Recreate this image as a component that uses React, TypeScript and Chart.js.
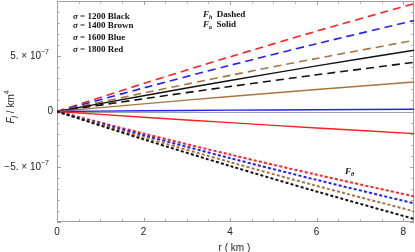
import React, { useEffect, useRef } from 'react';
import { Chart, registerables } from 'chart.js';
Chart.register(...registerables);

// radial coordinate (km)
const rValues = [0, 2, 4, 6, 8.25];
// values in units of 1e-7
const FhBlack = [0, 1.15, 2.26, 3.32, 4.45];
const FhBrown = [0, 1.67, 3.27, 4.8, 6.44];
const FhBlue = [0, 2.13, 4.18, 6.13, 8.23];
const FhRed = [0, 2.53, 4.95, 7.27, 9.76];
const FaBlack = [0, 1.43, 2.81, 4.13, 5.54];
const FaBrown = [0, 0.69, 1.36, 1.99, 2.67];
const FaBlue = [0, 0.07, 0.12, 0.16, 0.2];
const FaRed = [0, -0.52, -1.01, -1.49, -2.0];
const FtBlack = [0, -2.52, -4.93, -7.24, -9.72];
const FtBrown = [0, -2.34, -4.58, -6.73, -9.03];
const FtBlue = [0, -2.15, -4.22, -6.19, -8.31];
const FtRed = [0, -1.99, -3.9, -5.72, -7.68];

const sigmaValues = ['1200', '1400', '1600', '1800'];
const colorNames = ['Black', 'Brown', 'Blue', 'Red'];
const xTickValues = [0, 2, 4, 6, 8];
const yTickMantissa = [5, 0, -5];

const COLORS: Record<string, string> = {
  Black: '#111111',
  Brown: '#a8743f',
  Blue: '#1f1fff',
  Red: '#ff1f1f',
};

type Part = { t: string; f: string; dy?: number };

function drawParts(ctx: CanvasRenderingContext2D, x: number, y: number, parts: Part[], align: 'left' | 'right' | 'center' = 'left') {
  let total = 0;
  for (const p of parts) {
    ctx.font = p.f;
    total += ctx.measureText(p.t).width;
  }
  let cx = align === 'left' ? x : align === 'right' ? x - total : x - total / 2;
  ctx.textAlign = 'left';
  ctx.textBaseline = 'middle';
  for (const p of parts) {
    ctx.font = p.f;
    ctx.fillText(p.t, cx, y + (p.dy || 0));
    cx += ctx.measureText(p.t).width;
  }
}

const framePlugin = {
  id: 'framePlugin',
  beforeDatasetsDraw(chart: any) {
    const ctx: CanvasRenderingContext2D = chart.ctx;
    const { left, right, top, bottom } = chart.chartArea;
    const xs = chart.scales.x;
    const ys = chart.scales.y;
    ctx.save();
    ctx.strokeStyle = '#a0a0a0';
    ctx.lineWidth = 1;
    ctx.strokeRect(left + 0.5, top + 0.5, right - left - 1, bottom - top - 1);
    // zero line
    const y0 = Math.round(ys.getPixelForValue(0)) + 0.5;
    ctx.beginPath();
    ctx.moveTo(left, y0);
    ctx.lineTo(right, y0);
    ctx.stroke();
    // ticks
    ctx.beginPath();
    for (let i = 0; i <= 16; i++) {
      const v = i * 0.5;
      const px = Math.round(xs.getPixelForValue(v)) + 0.5;
      const len = i % 4 === 0 ? 4 : 2.5;
      ctx.moveTo(px, bottom);
      ctx.lineTo(px, bottom - len);
      ctx.moveTo(px, top);
      ctx.lineTo(px, top + len);
    }
    for (let i = -10; i <= 10; i++) {
      const v = i * 1e-7;
      const py = Math.round(ys.getPixelForValue(v)) + 0.5;
      const len = i % 5 === 0 ? 4 : 2.5;
      ctx.moveTo(left, py);
      ctx.lineTo(left + len, py);
      ctx.moveTo(right, py);
      ctx.lineTo(right - len, py);
    }
    ctx.stroke();
    ctx.restore();
  },
  afterDraw(chart: any) {
    const ctx: CanvasRenderingContext2D = chart.ctx;
    const { left, bottom } = chart.chartArea;
    const xs = chart.scales.x;
    const ys = chart.scales.y;
    ctx.save();
    ctx.fillStyle = '#222';
    const tickFont = '10px "Liberation Sans", Arial, sans-serif';
    const supFont = '7px "Liberation Sans", Arial, sans-serif';
    for (const v of xTickValues) {
      drawParts(ctx, xs.getPixelForValue(v), bottom + 10, [{ t: String(v), f: tickFont }], 'center');
    }
    for (const m of yTickMantissa) {
      const py = ys.getPixelForValue(m * 1e-7);
      if (m === 0) {
        drawParts(ctx, left - 4, py, [{ t: '0', f: tickFont }], 'right');
      } else {
        const sign = m < 0 ? '\u2212' : '';
        drawParts(ctx, left - 8, py, [
          { t: sign + Math.abs(m) + '. \u00d7 10', f: tickFont },
          { t: '\u22127', f: supFont, dy: -4 },
        ], 'right');
      }
    }
    // axis titles
    drawParts(ctx, xs.getPixelForValue(4.1), 248, [{ t: 'r ( km )', f: '10px "Liberation Sans", Arial, sans-serif' }], 'center');
    ctx.save();
    ctx.translate(11, 107);
    ctx.rotate(-Math.PI / 2);
    drawParts(ctx, 0, 0, [
      { t: 'F', f: 'italic 10px "Liberation Sans", Arial, sans-serif' },
      { t: 'j', f: 'italic 7px "Liberation Sans", Arial, sans-serif', dy: 3 },
      { t: ' / km', f: '10px "Liberation Sans", Arial, sans-serif' },
      { t: '4', f: '7px "Liberation Sans", Arial, sans-serif', dy: -4 },
    ], 'center');
    ctx.restore();
    // legend annotations
    ctx.fillStyle = '#111';
    const serifB = 'bold 9px "Liberation Serif", "DejaVu Serif", serif';
    const serifBI = 'bold italic 9px "Liberation Serif", "DejaVu Serif", serif';
    const serifSub = 'bold italic 6px "Liberation Serif", "DejaVu Serif", serif';
    const rowsY = [17, 26, 38, 50];
    sigmaValues.forEach((s, i) => {
      drawParts(ctx, 73, rowsY[i], [
        { t: '\u03c3', f: serifBI },
        { t: ' = ' + s + ' ' + colorNames[i], f: serifB },
      ]);
    });
    drawParts(ctx, 203, 15, [
      { t: 'F', f: serifBI },
      { t: 'h', f: serifSub, dy: 2 },
      { t: '  Dashed', f: serifB },
    ]);
    drawParts(ctx, 203, 25, [
      { t: 'F', f: serifBI },
      { t: 'a', f: serifSub, dy: 2 },
      { t: '  Solid', f: serifB },
    ]);
    drawParts(ctx, 345, 172, [
      { t: 'F', f: serifBI },
      { t: '\u03b8', f: serifSub, dy: 2 },
    ]);
    ctx.restore();
  },
};

function mk(vals: number[], color: string, style: 'dash' | 'solid' | 'dot') {
  return {
    data: rValues.map((r, i) => ({ x: r, y: vals[i] * 1e-7 })),
    borderColor: color,
    borderWidth: style === 'dot' ? 2 : style === 'dash' ? 1.6 : 1.4,
    borderDash: style === 'dash' ? [8, 5] : style === 'dot' ? [3, 2.2] : [],
    pointRadius: 0,
    fill: false,
    tension: 0.3,
  };
}

export default function App() {
  const ref = useRef<HTMLCanvasElement>(null);
  useEffect(() => {
    document.body.style.margin = '0';
    const chart = new Chart(ref.current!, {
      type: 'line',
      data: {
        datasets: [
          mk(FtBlack, COLORS.Black, 'dot'),
          mk(FtBrown, COLORS.Brown, 'dot'),
          mk(FtBlue, COLORS.Blue, 'dot'),
          mk(FtRed, COLORS.Red, 'dot'),
          mk(FaRed, COLORS.Red, 'solid'),
          mk(FaBlue, COLORS.Blue, 'solid'),
          mk(FaBrown, COLORS.Brown, 'solid'),
          mk(FaBlack, COLORS.Black, 'solid'),
          mk(FhBlack, COLORS.Black, 'dash'),
          mk(FhBrown, COLORS.Brown, 'dash'),
          mk(FhBlue, COLORS.Blue, 'dash'),
          mk(FhRed, COLORS.Red, 'dash'),
        ] as any,
      },
      options: {
        animation: false,
        responsive: false,
        layout: { padding: { left: 57, right: 1, top: 1, bottom: 30 } },
        plugins: { legend: { display: false }, tooltip: { enabled: false } },
        scales: {
          x: { type: 'linear', min: 0, max: 8.25, display: false },
          y: { type: 'linear', min: -1e-6, max: 1e-6, display: false },
        },
      },
      plugins: [framePlugin],
    });
    return () => chart.destroy();
  }, []);
  return <canvas ref={ref} width={415} height={252} style={{ display: 'block' }} />;
}
